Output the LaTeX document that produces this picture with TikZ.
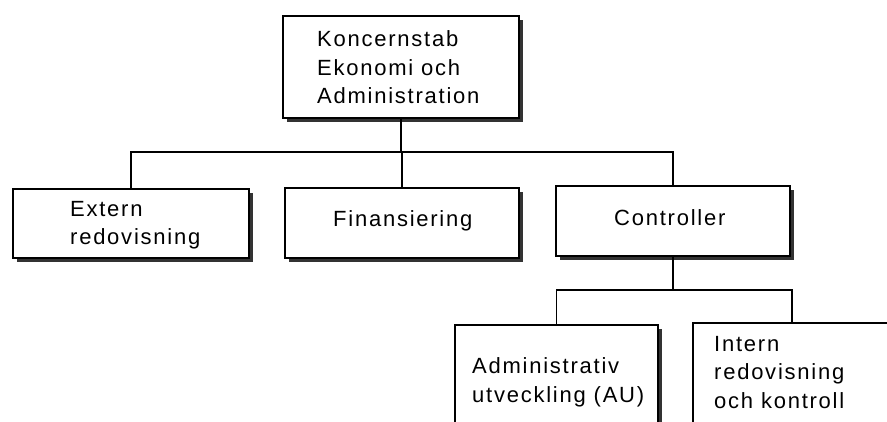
\documentclass[tikz,border=0pt]{standalone}
\usepackage{fontspec}
\setmainfont{Liberation Sans}[LetterSpace=8]
\usetikzlibrary{shadows}
\begin{document}
\begin{tikzpicture}[x=1pt,y=-1pt,
  box/.style={draw=black, line width=1.7pt, fill=white, inner sep=0pt, anchor=north west,
    drop shadow={shadow xshift=4pt, shadow yshift=-4pt, fill=black!80, opacity=1}},
  conn/.style={draw=black, line width=1.4pt},
  txt/.style={inner sep=0pt, anchor=base west, align=left, font=\fontsize{22}{28.5}\selectfont}]
\useasboundingbox (0,0) rectangle (887,422);
\clip (0,0) rectangle (887,422);
\coordinate (bus) at (401,152);
\coordinate (bus2) at (676,290);
% boxes
\node[box, minimum width=236pt, minimum height=102pt] (top) at (282,15) {};
\node[box, minimum width=236pt, minimum height=69pt] (ext) at (12,188) {};
\node[box, minimum width=234pt, minimum height=70pt] (fin) at (284,187) {};
\node[box, minimum width=234pt, minimum height=70pt] (ctl) at (555,185) {};
\node[box, minimum width=203pt, minimum height=121pt] (au) at (454,324) {};
\node[box, minimum width=198pt, minimum height=123pt] (int) at (692,322) {};
% texts (anchor = baseline of last line)
\node[txt] (topT) at (317,104) {Koncernstab\\Ekonomi och\\Administration};
\node[txt] (extT) at (70,245) {Extern\\redovisning};
\node[txt] (finT) at (333,227) {Finansiering};
\node[txt] (ctlT) at (614,226) {Controller};
\node[txt] (auT) at (472,402) {Administrativ\\utveckling (AU)};
\node[txt] (intT) at (714,408) {Intern\\redovisning\\och kontroll};
% connectors
\draw[conn] (top.south) -- (top.south |- bus);
\draw[conn] (ext.north) |- (ctl.north |- bus) -- (ctl.north);
\draw[conn] (fin.north) -- (fin.north |- bus);
\draw[conn] (ctl.south) -- (ctl.south |- bus2);
\draw[conn] (au.north) |- (int.north |- bus2) -- (int.north);
\end{tikzpicture}
\end{document}
